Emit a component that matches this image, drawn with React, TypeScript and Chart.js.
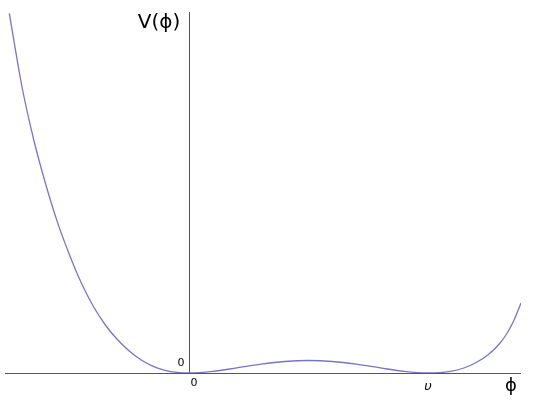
import React, { useEffect, useRef } from "react";
import { Chart, registerables } from "chart.js";

Chart.register(...registerables);

// field value phi (in units of the vacuum value υ) and potential V(phi)
const phiValues = [
  -0.752, -0.7, -0.65, -0.6, -0.55, -0.5, -0.45, -0.4, -0.35, -0.3,
  -0.25, -0.2, -0.15, -0.1, -0.05, 0,
  0.1, 0.2, 0.3, 0.4, 0.5, 0.6, 0.7, 0.8, 0.9, 1.0,
  1.05, 1.1, 1.15, 1.2, 1.25, 1.3, 1.33, 1.36, 1.389,
];
const potentialValues = [
  3.597, 2.875, 2.335, 1.89, 1.504, 1.181, 0.898, 0.665, 0.48, 0.335,
  0.22, 0.13, 0.067, 0.027, 0.006, 0,
  0.016, 0.051, 0.088, 0.115, 0.125, 0.115, 0.088, 0.051, 0.016, 0,
  0.004, 0.018, 0.05, 0.102, 0.18, 0.295, 0.395, 0.53, 0.7,
];
const xAxisLabel = "ϕ";
const yAxisLabel = "V(ϕ)";
const originLabel = "0";
const vevLabel = "υ";
const vevValue = 1;

export default function App() {
  const ref = useRef<HTMLCanvasElement | null>(null);
  useEffect(() => {
    if (!ref.current) return;
    const data = phiValues.map((p, i) => ({ x: p, y: potentialValues[i] }));
    const axesPlugin = {
      id: "axesPlugin",
      beforeDatasetsDraw(chart: any) {
        const { ctx, chartArea, scales } = chart;
        const x0 = scales.x.getPixelForValue(0);
        const y0 = scales.y.getPixelForValue(0);
        ctx.save();
        ctx.strokeStyle = "#555555";
        ctx.lineWidth = 1;
        ctx.beginPath();
        ctx.moveTo(chartArea.left, Math.round(y0) + 0.5);
        ctx.lineTo(chartArea.right, Math.round(y0) + 0.5);
        ctx.moveTo(Math.round(x0) + 0.5, chartArea.top);
        ctx.lineTo(Math.round(x0) + 0.5, Math.round(y0));
        ctx.stroke();
        ctx.fillStyle = "#000000";
        ctx.textBaseline = "middle";
        ctx.textAlign = "center";
        ctx.font = '20px "DejaVu Sans", sans-serif';
        ctx.fillText(yAxisLabel, x0 - 30, chartArea.top + 11);
        ctx.font = '18px "DejaVu Sans", sans-serif';
        ctx.fillText(xAxisLabel, chartArea.right - 10, y0 + 13);
        ctx.font = '11px "DejaVu Sans", sans-serif';
        ctx.fillText(originLabel, x0 - 8, y0 - 10);
        ctx.fillText(originLabel, x0 + 5, y0 + 10);
        ctx.font = 'italic 13px "DejaVu Sans", sans-serif';
        ctx.fillText(vevLabel, scales.x.getPixelForValue(vevValue), y0 + 14);
        ctx.restore();
      },
    };
    const chart = new Chart(ref.current, {
      type: "scatter",
      data: {
        datasets: [
          {
            data,
            showLine: true,
            borderColor: "#7b74c6",
            borderWidth: 1.3,
            pointRadius: 0,
            cubicInterpolationMode: "monotone",
          } as any,
        ],
      },
      options: {
        animation: false,
        responsive: false,
        maintainAspectRatio: false,
        layout: { padding: { left: 5, right: 24, top: 12, bottom: 36 } },
        plugins: { legend: { display: false }, tooltip: { enabled: false } },
        scales: {
          x: { type: "linear", min: -0.77, max: 1.389, display: false },
          y: { type: "linear", min: 0, max: 3.61, display: false },
        },
      },
      plugins: [axesPlugin],
    });
    return () => chart.destroy();
  }, []);
  return (
    <div style={{ position: "fixed", left: 0, top: 0, width: 545, height: 409, background: "#fff" }}>
      <canvas ref={ref} width={545} height={409} style={{ width: 545, height: 409 }} />
    </div>
  );
}
